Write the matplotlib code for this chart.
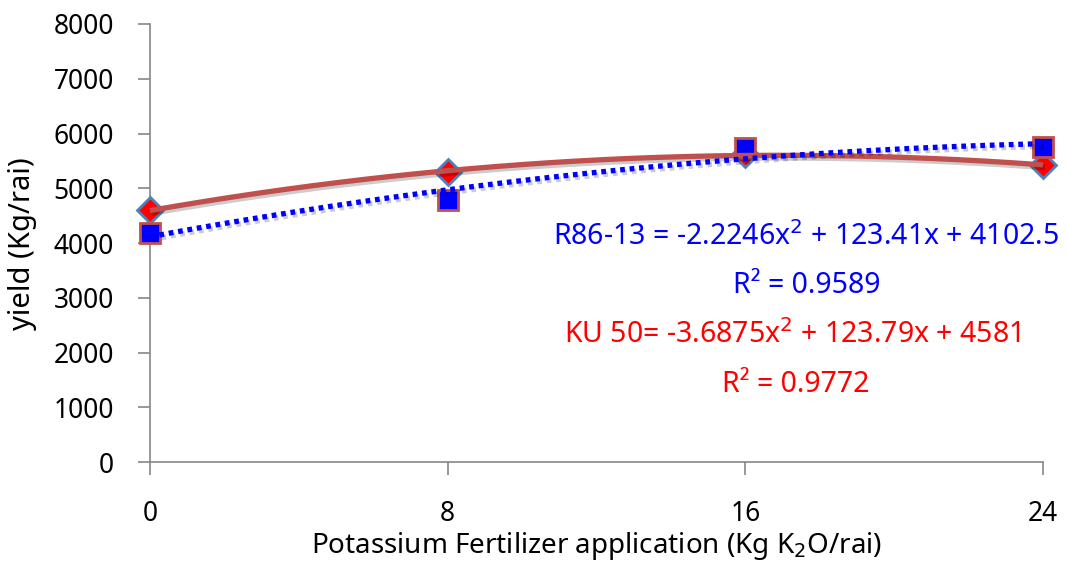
import numpy as np
import matplotlib
matplotlib.use("Agg")
import matplotlib.pyplot as plt
import matplotlib.patheffects as pe

# fertilizer levels (Kg K2O/rai)
potassium = [0, 8, 16, 24]
# yields (Kg/rai)
ku50_yield = [4600, 5300, 5620, 5420]
r86_yield = [4180, 4780, 5730, 5750]

y_ticks = [0, 1000, 2000, 3000, 4000, 5000, 6000, 7000, 8000]

plt.rcParams['font.family'] = ['Noto Sans', 'DejaVu Sans']

fig = plt.figure(figsize=(10.67, 5.66), dpi=100)
ax = fig.add_axes([0.1406, 0.1837, 0.8369, 0.7739])

# data points
ax.plot(potassium, ku50_yield, linestyle='none', marker='D', markersize=13,
        markerfacecolor='#FF0000', markeredgecolor='#4F81BD', markeredgewidth=2,
        clip_on=False, zorder=3)
ax.plot(potassium, r86_yield, linestyle='none', marker='s', markersize=15,
        markerfacecolor='#0000FF', markeredgecolor='#C0504D', markeredgewidth=2,
        clip_on=False, zorder=4)

# polynomial trendlines
xx = np.linspace(0, 24, 200)
shadow = [pe.SimpleLineShadow(offset=(1.5, -2), alpha=0.2), pe.Normal()]
ku50_fit = np.polyfit(potassium, ku50_yield, 2)
r86_fit = np.polyfit(potassium, r86_yield, 2)
ax.plot(xx, np.polyval(ku50_fit, xx), color='#C0504D', linewidth=3.8,
        solid_capstyle='butt', path_effects=shadow, clip_on=False, zorder=5)
ax.plot(xx, np.polyval(r86_fit, xx), color='#0000FF', linewidth=3.8,
        linestyle=(0, (0.9, 0.9)), dash_capstyle='butt', path_effects=shadow,
        clip_on=False, zorder=6)

ax.set_xlim(0, 24)
ax.set_ylim(0, 8000)
ax.set_xticks(potassium)
ax.set_yticks(y_ticks)
ax.tick_params(axis='both', labelsize=19, color='#868686', length=9,
               width=1.2, direction='out')
ax.tick_params(axis='x', pad=18)
ax.tick_params(axis='y', pad=17)

for side in ['top', 'right']:
    ax.spines[side].set_visible(False)
for side in ['left', 'bottom']:
    ax.spines[side].set_color('#868686')
    ax.spines[side].set_linewidth(1.2)

ax.set_xlabel('Potassium Fertilizer application (Kg K$_2$O/rai)', fontsize=20)
ax.xaxis.label.set_va('center')
ax.xaxis.set_label_coords(0.5, -0.192)
ax.set_ylabel('yield (Kg/rai)', fontsize=21)
ax.yaxis.label.set_va('center')
ax.yaxis.set_label_coords(-0.143, 0.498)

# trendline equations
txt = dict(transform=ax.transAxes, fontsize=20.5, ha='center', va='baseline')
ax.text(0.735, 0.495, 'R86-13 = -2.2246x$^2$ + 123.41x + 4102.5', color='#0000FF', **txt)
ax.text(0.735, 0.386, 'R² = 0.9589', color='#0000FF', **txt)
ax.text(0.719, 0.272, 'KU 50= -3.6875x$^2$ + 123.79x + 4581', color='#FF0000', **txt)
ax.text(0.723, 0.160, 'R² = 0.9772', color='#FF0000', **txt)

fig.savefig('out.png', dpi=100)
